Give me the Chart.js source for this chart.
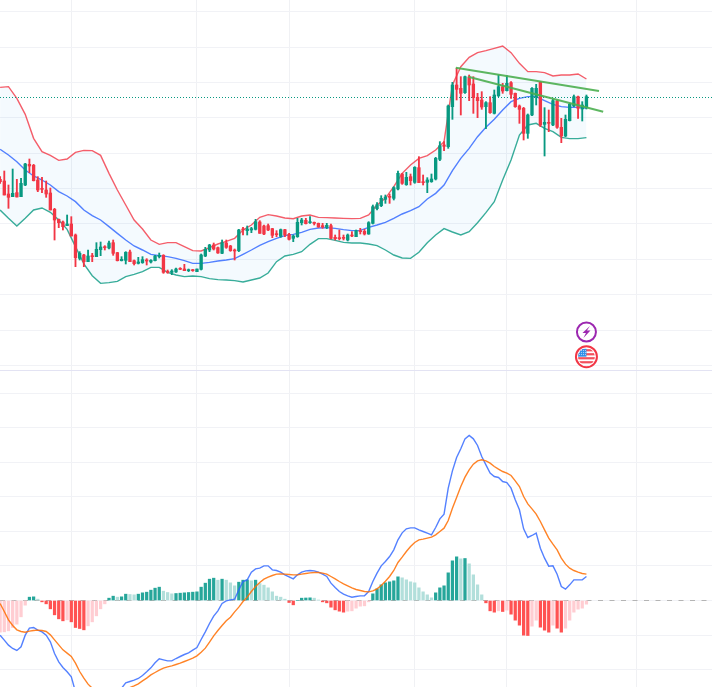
<!DOCTYPE html>
<html>
<head>
<meta charset="utf-8">
<title>Price and MACD</title>
<script src="https://cdn.jsdelivr.net/npm/chart.js@4/dist/chart.umd.min.js"></script>
<style>
  html, body { margin: 0; padding: 0; background: #fff; }
  #page { position: relative; width: 712px; height: 687px; overflow: hidden; }
  canvas { position: absolute; left: 0; }
  #pricePane { top: 0; }
  #macdPane { top: 370px; }
  #divider { position: absolute; left: 0; top: 370px; width: 712px; height: 1px; background: #e3e3f3; }
</style>
</head>
<body>
<div id="page">
  <canvas id="pricePane" width="712" height="370"></canvas>
  <canvas id="macdPane" width="712" height="317"></canvas>
  <div id="divider"></div>
</div>
<script>
// candles, one per session
const opens = [
  962,957,918,910,922,910,945,1007,1004,960,
  934,930,921,872,842,834,823,828,795,725,
  735,715,732,730,751,759,756,772,742,718,
  719,744,718,710,712,719,714,718,730,734,
  686,683,684,694,693,688,690,685,692,732,
  750,765,757,740,771,762,750,748,812,808,
  810,812,834,822,823,814,799,791,811,797,
  785,790,832,839,832,833,830,823,818,823,
  788,787,788,780,795,790,808,806,798,830,
  874,883,902,910,905,933,978,946,970,953,
  997,955,953,955,963,1022,1065,1060,1180,1245,
  1235,1222,1269,1248,1208,1200,1180,1192,1160,1213,
  1240,1228,1252,1220,1182,1175,1100,1155,1210,1253,
  1127,1133,1125,1197,1118,1092,1138,1182,1210,1173,1178
];
const closes = [
  955,915,908,920,909,950,1008,1002,958,930,
  932,918,870,840,832,820,828,792,727,740,
  715,732,730,752,759,757,771,740,718,722,
  743,715,709,714,721,717,719,732,734,683,
  683,687,693,692,688,691,688,693,735,752,
  765,753,741,772,758,748,747,810,810,813,
  814,835,800,798,810,794,796,811,795,782,
  792,833,840,829,834,830,819,819,824,785,
  784,784,785,795,792,808,805,798,832,880,
  886,905,909,908,937,980,950,968,958,998,
  952,952,960,963,1025,1063,1061,1182,1245,1232,
  1220,1270,1245,1207,1198,1179,1192,1162,1215,1240,
  1227,1250,1217,1180,1172,1100,1155,1235,1235,1125,
  1133,1130,1198,1118,1092,1142,1187,1210,1175,1185,1210
];
const highs = [
  970,987,945,993,962,965,1010,1023,1007,970,
  968,957,936,875,843,837,855,850,798,745,
  737,750,740,772,774,763,777,780,743,730,
  745,750,720,728,730,724,721,734,741,736,
  690,691,696,697,707,693,692,693,738,758,
  767,771,759,780,780,764,753,812,818,822,
  818,842,838,825,828,815,808,813,812,800,
  795,845,845,845,850,834,831,830,830,828,
  795,810,795,798,805,810,815,812,835,885,
  892,913,915,918,940,987,980,983,978,1000,
  1030,975,967,978,1028,1075,1075,1185,1253,1295,
  1270,1272,1275,1270,1220,1225,1195,1210,1230,1275,
  1250,1273,1255,1221,1185,1178,1158,1237,1247,1255,
  1177,1170,1202,1200,1145,1155,1190,1215,1212,1195,1215
];
const lows = [
  950,915,875,910,909,910,943,982,957,925,
  922,908,870,780,817,810,823,792,700,720,
  700,715,715,730,733,750,753,734,717,717,
  708,715,705,708,710,705,711,717,726,680,
  680,676,683,691,688,685,686,685,690,730,
  745,750,740,739,755,746,720,745,795,795,
  802,810,800,796,808,787,790,788,790,780,
  775,788,825,828,830,825,818,815,814,783,
  780,780,780,777,790,790,798,795,797,828,
  870,880,890,890,900,930,947,944,945,950,
  952,945,922,953,960,1018,1048,1055,1142,1200,
  1155,1220,1198,1160,1147,1172,1114,1160,1158,1210,
  1220,1227,1205,1178,1130,1080,1085,1153,1185,1120,
  1032,1105,1123,1115,1072,1090,1137,1180,1145,1137,1173
];

// bollinger bands, listed every second session
const bbUpper = [
  1238,1240,1205,1157,1085,1045,1034,1019,1023,1043,1049,1048,1034,980,930,885,840,813,780,767,772,772,760,748,747,757,768,776,785,
  810,825,848,856,852,846,844,852,855,848,847,846,845,844,845,855,885,905,940,980,1005,1025,1033,1050,
  1075,1245,1300,1328,1342,1348,1355,1362,1342,1310,1285,1285,1282,1272,1275,1275,1278,1263
];
const bbBasis = [
  1052,1035,1015,990,972,960,945,925,912,895,870,853,840,820,800,780,762,750,737,733,730,725,718,710,710,713,717,720,724,
  737,750,764,775,785,793,797,803,812,816,817,815,811,808,809,818,825,833,845,858,868,880,903,920,
  945,988,1025,1055,1090,1118,1142,1170,1195,1205,1210,1210,1198,1187,1180,1178,1178,1175
];
const bbLower = [
  870,845,822,845,870,876,863,840,812,760,708,673,650,652,656,670,677,685,698,698,683,675,670,672,670,664,661,660,658,
  654,660,666,681,715,732,737,745,767,784,784,779,773,771,771,768,763,750,735,726,725,743,772,795,
  814,804,795,805,832,862,895,960,1020,1095,1125,1130,1115,1105,1088,1084,1084,1087
];

// macd pane
const histogram = [
  -95,-94,-91,-81,-71,-49,-14,10,11,4,
  -4,-10,-25,-43,-55,-61,-58,-64,-81,-84,
  -88,-76,-64,-46,-25,-10,7,13,10,11,
  19,18,17,19,23,25,31,37,40,28,
  24,20,21,22,23,24,25,26,40,52,
  64,67,61,64,61,53,44,55,61,62,
  59,61,51,46,38,26,13,10,4,-6,
  -13,0,7,7.5,8,7,1,-4,-7,-20,
  -28,-32,-35,-32,-31,-23,-17,-16,-4,20,
  35,47,53,56,59,71,68,62,56,53,
  38,26,17,8,23,38,44,83,119,131,
  125,126,110,77,47,17,-7,-31,-35,-31,
  -33,-29,-41,-59,-74,-104,-105,-77,-59,-80,
  -89,-95,-74,-83,-95,-83,-59,-35,-26,-23,-11
];
const macdLine = [
  -104,-119,-134,-144,-150,-139,-104,-83,-81,-89,
  -94,-104,-124,-159,-184,-201,-214,-229,-274,-299,
  -324,-344,-359,-369,-369,-359,-339,-319,-289,-263,
  -247,-243,-239,-234,-225,-214,-202,-187,-175,-178,
  -181,-181,-174,-168,-162,-157,-149,-141,-117,-94,
  -69,-47,-31,-9,-1,2,4,32,57,62,
  85,95,97,104,104,92,90,85,77,71,
  65,77,85,89,90,89,85,79,72,52,
  39,27,19,14,10,12,14,14,27,57,
  82,104,117,132,152,182,203,215,218,218,
  212,207,202,197,219,245,259,337,389,429,
  455,485,495,485,465,432,407,382,372,369,
  357,354,337,302,272,215,189,195,202,157,
  127,103,104,79,42,34,47,62,62,62,72
];
const signalLine = [
  -9,-33,-58,-75,-88,-93,-95,-92,-90,-89,
  -90,-93,-103,-118,-133,-148,-158,-168,-188,-213,
  -233,-251,-263,-278,-293,-303,-308,-308,-303,-293,
  -278,-261,-256,-250,-241,-233,-223,-216,-209,-203,
  -199,-196,-192,-188,-183,-178,-173,-166,-155,-143,
  -125,-106,-90,-75,-61,-50,-34,-20,-3,10,
  27,42,54,64,70,75,79,80,79,78,
  77,77,79,81,83,84,84,82,79,72,
  65,57,50,44,38,33,30,27,26,29,
  35,45,58,72,90,114,130,147,162,174,
  182,184,187,190,197,207,217,240,277,309,
  342,370,392,409,419,422,419,412,402,394,
  387,382,375,359,342,312,290,275,259,237,
  212,187,169,152,127,109,97,90,85,81,79
];

// hand drawn trend lines, dotted last price, event badges
const trendBarsA = [108.8, 143];
const trendPricesA = [1297, 1227];
const trendBarsB = [111.8, 144];
const trendPricesB = [1270, 1165];
const lastPrice = 1207.5;
const eventBar = 140;
const boltLevel = 504;
const flagLevel = 430;

// grid positions
const monthBars = [17, 47, 69, 99, 121, 152];
const priceTicks = [1466, 1359, 1253, 1147, 1041, 935, 829, 722, 616, 510, 404];
const macdTicks = [621, 517.5, 414, 310.5, 207, 103.5, 0, -103.5, -207];

const GRID = '#f1f2f6';
const UP = '#089981';
const DOWN = '#f23645';
const xMin = -0.024, xMax = 169.98;

const toPoints = (xs, ys) => ys.map((y, i) => ({x: xs[i], y: y}));
const sessions = opens.map((_, i) => i);
const bbBars = bbBasis.map((_, i) => i * 2);

function xAxis() {
  return {
    type: 'linear', min: xMin, max: xMax, offset: false,
    border: {display: false},
    grid: {color: '#f0f1f4', drawTicks: false, offset: false},
    ticks: {display: false},
    afterBuildTicks: axis => { axis.ticks = monthBars.map(v => ({value: v})); }
  };
}

function yAxis(min, max, values) {
  return {
    min: min, max: max,
    border: {display: false},
    grid: {color: GRID, drawTicks: false},
    ticks: {display: false},
    afterBuildTicks: axis => { axis.ticks = values.map(v => ({value: v})); }
  };
}

const baseOptions = {
  responsive: false,
  animation: false,
  events: [],
  layout: {padding: 0},
  plugins: {legend: {display: false}, tooltip: {enabled: false}}
};

function line(label, data, color, order, extra) {
  return Object.assign({
    type: 'line', label: label, data: data, borderColor: color, borderWidth: 1.4,
    pointRadius: 0, tension: 0, fill: false, order: order
  }, extra || {});
}

// the two badges under the last candle
function drawBolt(ctx, x, y) {
  ctx.strokeStyle = '#9c27b0';
  ctx.lineWidth = 2;
  ctx.beginPath();
  ctx.arc(x, y, 9.5, 0, Math.PI * 2);
  ctx.stroke();
  ctx.fillStyle = '#9c27b0';
  ctx.beginPath();
  ctx.moveTo(x + 3.5, y - 6);
  ctx.lineTo(x - 4, y + 1);
  ctx.lineTo(x - 0.5, y + 1);
  ctx.lineTo(x - 3, y + 6);
  ctx.lineTo(x + 4, y - 1.5);
  ctx.lineTo(x + 0.5, y - 1.5);
  ctx.closePath();
  ctx.fill();
}

function drawFlag(ctx, x, y) {
  ctx.strokeStyle = DOWN;
  ctx.lineWidth = 2;
  ctx.beginPath();
  ctx.arc(x, y, 10.5, 0, Math.PI * 2);
  ctx.stroke();
  ctx.save();
  ctx.beginPath();
  ctx.arc(x, y, 8.5, 0, Math.PI * 2);
  ctx.clip();
  ctx.fillStyle = '#fff';
  ctx.fillRect(x - 9, y - 9, 18, 18);
  ctx.fillStyle = '#f2505c';
  [-7.5, -3.5, 0.5, 4.5].forEach(off => ctx.fillRect(x - 9, y + off, 18, 2.2));
  ctx.fillStyle = '#2f8ee8';
  ctx.fillRect(x - 9, y - 8, 9, 8);
  ctx.fillStyle = '#d5e8fb';
  for (let r = 0; r < 3; r++) {
    for (let c = 0; c < 4; c++) {
      ctx.fillRect(x - 7.5 + c * 2, y - 6.5 + r * 2, 0.9, 0.9);
    }
  }
  ctx.restore();
}

const badges = {
  id: 'badges',
  afterDraw(chart) {
    const x = chart.scales.x.getPixelForValue(eventBar);
    drawBolt(chart.ctx, x, chart.scales.y.getPixelForValue(boltLevel));
    drawFlag(chart.ctx, x, chart.scales.y.getPixelForValue(flagLevel));
  }
};

const candleColors = opens.map((o, i) => closes[i] >= o ? UP : DOWN);

new Chart(document.getElementById('pricePane'), {
  type: 'bar',
  data: {
    datasets: [
      line('upper', toPoints(bbBars, bbUpper), 'rgba(242,54,69,0.8)', 9,
        {fill: {target: 1}, backgroundColor: 'rgba(33,150,243,0.05)'}),
      line('lower', toPoints(bbBars, bbLower), 'rgba(8,153,129,0.8)', 8),
      line('basis', toPoints(bbBars, bbBasis), 'rgba(41,98,255,0.8)', 7),
      line('last', [{x: xMin, y: lastPrice}, {x: xMax, y: lastPrice}], UP, 6, {borderDash: [1, 2], borderWidth: 1}),
      {
        type: 'bar', label: 'wicks', order: 5, grouped: false, barThickness: 1.2,
        data: sessions.map(i => ({x: i, y: [lows[i], highs[i]]})),
        backgroundColor: candleColors, borderWidth: 0, borderSkipped: false
      },
      {
        type: 'bar', label: 'bodies', order: 4, grouped: false, barThickness: 2.7, minBarLength: 1,
        data: sessions.map(i => ({x: i, y: [opens[i], closes[i]]})),
        backgroundColor: candleColors, borderWidth: 0, borderSkipped: false
      },
      line('trend a', toPoints(trendBarsA, trendPricesA), 'rgba(76,175,80,0.9)', 3, {borderWidth: 2}),
      line('trend b', toPoints(trendBarsB, trendPricesB), 'rgba(76,175,80,0.9)', 2, {borderWidth: 2})
    ]
  },
  options: Object.assign({}, baseOptions, {
    scales: {x: xAxis(), y: yAxis(390, 1500, priceTicks)}
  }),
  plugins: [badges]
});

// dark while a bar grows away from zero, pale while it shrinks back
const histColors = histogram.map((v, i) => {
  const prev = i ? histogram[i - 1] : v;
  if (v >= 0) return v > prev ? '#26a69a' : '#b2dfdb';
  return v < prev ? '#ff5252' : '#ffcdd2';
});

new Chart(document.getElementById('macdPane'), {
  type: 'bar',
  data: {
    datasets: [
      line('zero', [{x: xMin, y: 0}, {x: xMax, y: 0}], '#b4b4b4', 5, {borderDash: [5, 6.5], borderWidth: 1}),
      {
        type: 'bar', label: 'histogram', order: 4, grouped: false, barThickness: 2.6,
        data: sessions.map(i => ({x: i, y: histogram[i]})),
        backgroundColor: histColors, borderWidth: 0
      },
      line('macd', toPoints(sessions, macdLine), 'rgba(41,98,255,0.8)', 3),
      line('signal', toPoints(sessions, signalLine), 'rgba(255,109,0,0.85)', 2)
    ]
  },
  options: Object.assign({}, baseOptions, {
    scales: {x: xAxis(), y: yAxis(-259.5, 691.5, macdTicks)}
  })
});
</script>
</body>
</html>
